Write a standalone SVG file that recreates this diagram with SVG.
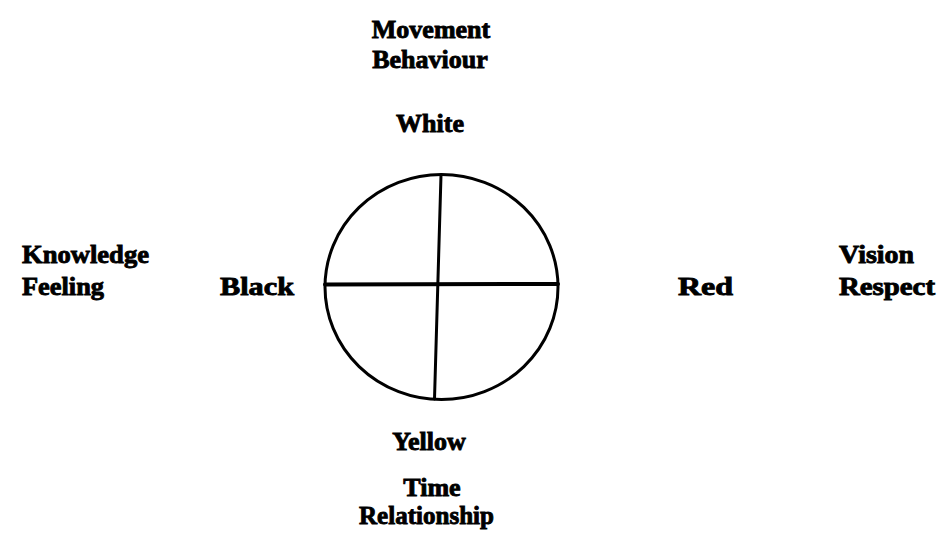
<svg xmlns="http://www.w3.org/2000/svg" width="937" height="553" viewBox="0 0 937 553">
<style>
text{font-family:"Liberation Serif","Times New Roman",serif;font-weight:bold;font-size:26px;fill:#000;stroke:#000;stroke-width:0.9px}
.c{text-anchor:middle}
.ln{stroke:#000;fill:none;stroke-linecap:round}
</style>
<rect width="937" height="553" fill="#fff"/>
<g id="wheel">
<ellipse cx="441.5" cy="287" rx="116.5" ry="112.5" class="ln" stroke-width="3"/>
</g>
<g id="connectors">
<line x1="441" y1="175" x2="434.5" y2="399" class="ln" stroke-width="3"/>
<line x1="325" y1="284.5" x2="558" y2="284" class="ln" stroke-width="4"/>
</g>
<g id="north"><text class="c" x="431" y="38">Movement</text><text class="c" x="430" y="68">Behaviour</text></g>
<g id="white"><text class="c" x="430" y="132">White</text></g>
<g id="west"><text x="22" y="263" textLength="127" lengthAdjust="spacingAndGlyphs">Knowledge</text><text x="22" y="295" textLength="82" lengthAdjust="spacingAndGlyphs">Feeling</text></g>
<g id="black"><text x="220" y="295" textLength="74" lengthAdjust="spacingAndGlyphs">Black</text></g>
<g id="red"><text x="678" y="295" textLength="55" lengthAdjust="spacingAndGlyphs">Red</text></g>
<g id="east"><text x="839" y="263" textLength="75" lengthAdjust="spacingAndGlyphs">Vision</text><text x="839" y="295" textLength="96" lengthAdjust="spacingAndGlyphs">Respect</text></g>
<g id="yellow"><text class="c" x="429" y="450">Yellow</text></g>
<g id="south"><text class="c" x="432" y="496">Time</text><text x="359" y="524" textLength="135" lengthAdjust="spacingAndGlyphs">Relationship</text></g>
</svg>
